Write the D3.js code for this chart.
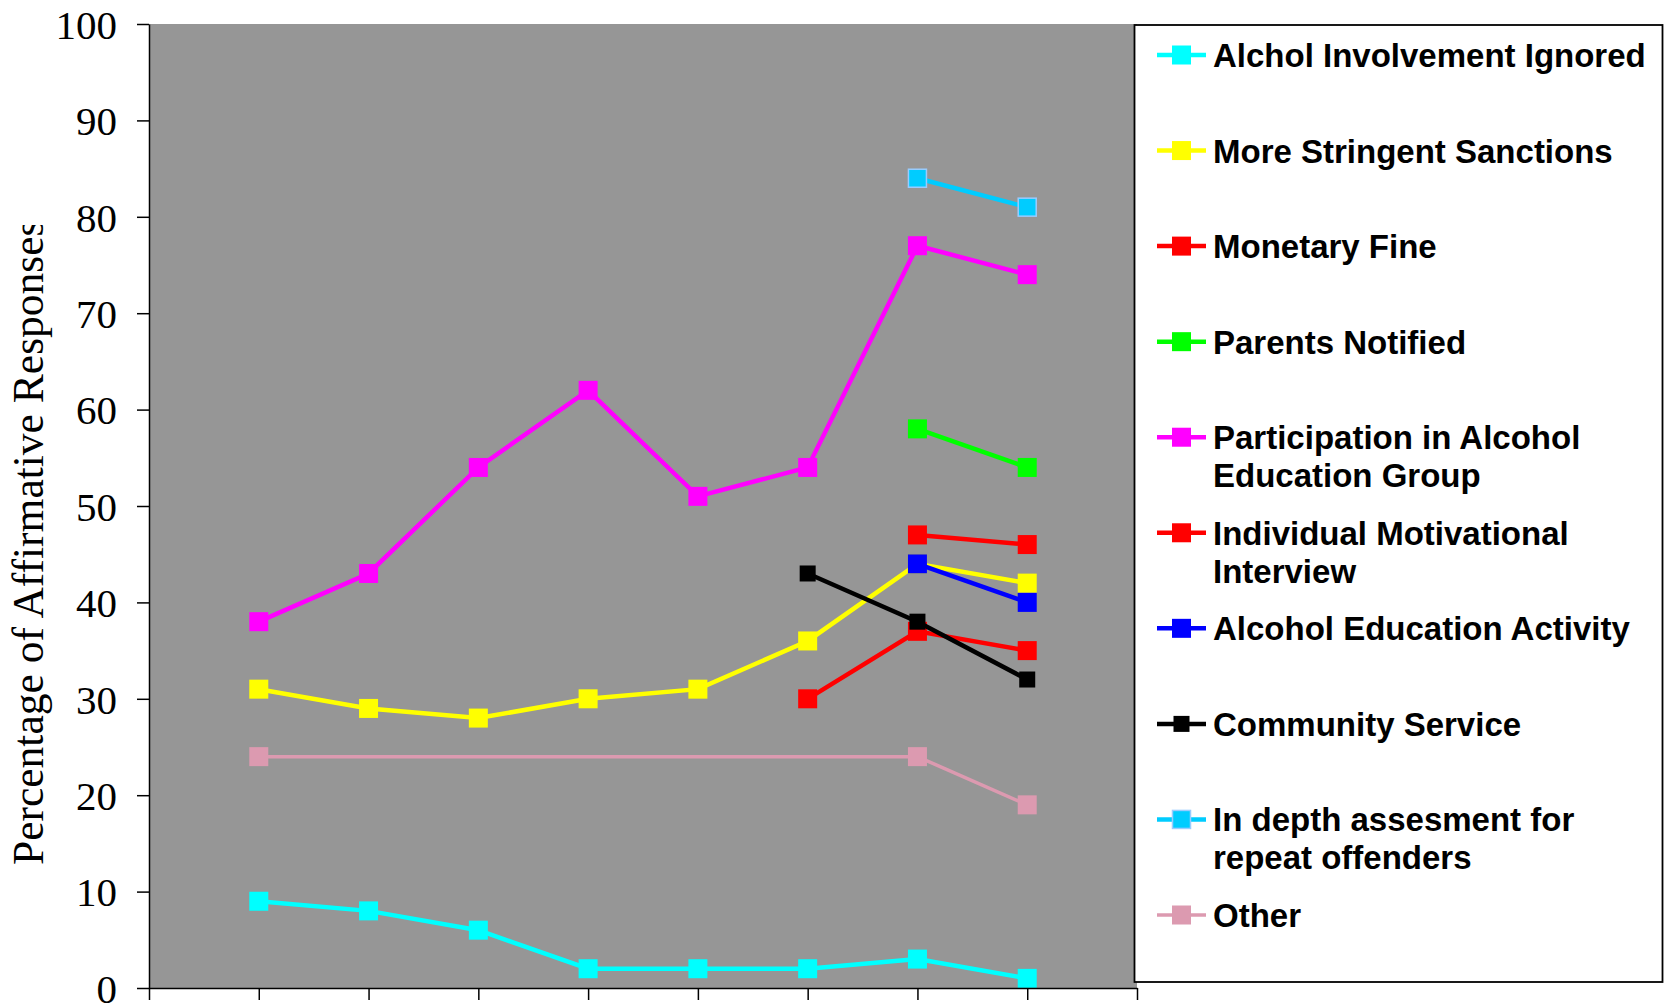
<!DOCTYPE html>
<html>
<head>
<meta charset="utf-8">
<script src="https://cdn.jsdelivr.net/npm/d3@7"></script>
<style>
  html, body { margin: 0; padding: 0; background: #ffffff; }
  svg { display: block; }
</style>
</head>
<body>
<svg id="chart" width="1664" height="1004"></svg>
<script>
// ---- data ----
const periods = [1, 2, 3, 4, 5, 6, 7, 8];
const xTickPositions = [0, 1, 2, 3, 4, 5, 6, 7, 8, 9];
const yTicks = [0, 10, 20, 30, 40, 50, 60, 70, 80, 90, 100];
const yTitle = "Percentage of Affirmative Responses";

const seriesNames = [
  "Alchol Involvement Ignored",
  "More Stringent Sanctions",
  "Monetary Fine",
  "Parents Notified",
  "Participation in Alcohol Education Group",
  "Individual Motivational Interview",
  "Alcohol Education Activity",
  "Community Service",
  "In depth assesment for repeat offenders",
  "Other"
];
const alcoholIgnored   = [9, 8, 6, 2, 2, 2, 3, 1];
const stringent        = [31, 29, 28, 30, 31, 36, 44, 42];
const monetaryFine     = [null, null, null, null, null, 30, 37, 35];
const parentsNotified  = [null, null, null, null, null, null, 58, 54];
const educationGroup   = [38, 43, 54, 62, 51, 54, 77, 74];
const motivational     = [null, null, null, null, null, null, 47, 46];
const educationActivity= [null, null, null, null, null, null, 44, 40];
const communityService = [null, null, null, null, null, 43, 38, 32];
const inDepth          = [null, null, null, null, null, null, 84, 81];
const other            = [24, null, null, null, null, null, 24, 19];
const seriesValues = [alcoholIgnored, stringent, monetaryFine, parentsNotified, educationGroup,
                      motivational, educationActivity, communityService, inDepth, other];

// ---- styles ----
const seriesColors  = ["#00FFFF", "#FFFF00", "#FF0000", "#00FF00", "#FF00FF",
                       "#FF0000", "#0000FF", "#000000", "#00CCFF", "#DC9AB0"];
const markerStroke  = [null, null, null, null, null, null, null, null, "#99CCFF", null];
const markerSizes   = [19, 19, 19, 19, 19, 19, 19, 16, 18, 19];
const lineWidths    = [4.5, 4.5, 4.5, 4.5, 4.5, 4.5, 4.5, 4.5, 4.5, 3.5];

const svg = d3.select("#chart");
const plot = { left: 149, right: 1137, top: 24, bottom: 988 };

const x = d3.scaleLinear().domain([0, 9]).range([plot.left, plot.right]);
const y = d3.scaleLinear().domain([0, 100]).range([plot.bottom, plot.top]);

svg.append("rect").attr("width", 1664).attr("height", 1004).attr("fill", "#ffffff");

// plot area
svg.append("rect")
  .attr("x", plot.left).attr("y", plot.top)
  .attr("width", plot.right - plot.left).attr("height", plot.bottom - plot.top)
  .attr("fill", "#969696");

// series
const line = d3.line().x(d => x(d.x)).y(d => y(d.v));
seriesNames.forEach((name, i) => {
  const pts = periods.map((p, j) => ({ x: p, v: seriesValues[i][j] })).filter(d => d.v !== null);
  const g = svg.append("g").attr("class", "series");
  g.append("path").datum(pts)
    .attr("d", line)
    .attr("fill", "none")
    .attr("stroke", seriesColors[i])
    .attr("stroke-width", lineWidths[i])
    .attr("stroke-linejoin", "miter");
  const s = markerSizes[i];
  g.selectAll("rect").data(pts).enter().append("rect")
    .attr("x", d => x(d.x) - s / 2)
    .attr("y", d => y(d.v) - s / 2)
    .attr("width", s).attr("height", s)
    .attr("fill", seriesColors[i])
    .attr("stroke", markerStroke[i] || "none")
    .attr("stroke-width", markerStroke[i] ? 1.5 : 0);
});

// axes
const yAxis = svg.append("g")
  .attr("transform", `translate(${plot.left},0)`)
  .call(d3.axisLeft(y).tickValues(yTicks).tickSize(12).tickSizeOuter(0).tickPadding(20));
yAxis.selectAll("text")
  .attr("font-family", "'Liberation Serif', 'Times New Roman', serif")
  .attr("font-size", 41)
  .attr("fill", "#000")
  .attr("dy", "0.35em");
yAxis.selectAll("line").attr("stroke", "#000").attr("stroke-width", 1.5);
yAxis.select(".domain").attr("stroke", "#000").attr("stroke-width", 1.5);

const xAxis = svg.append("g")
  .attr("transform", `translate(0,${plot.bottom})`)
  .call(d3.axisBottom(x).tickValues(xTickPositions).tickSize(12).tickSizeOuter(0).tickFormat(""));
xAxis.selectAll("line").attr("stroke", "#000").attr("stroke-width", 1.5);
xAxis.select(".domain").attr("stroke", "#000").attr("stroke-width", 1.5);

// y title (clipped at the top like the reference)
svg.append("clipPath").attr("id", "titleClip")
  .append("rect").attr("x", 0).attr("y", 225).attr("width", 100).attr("height", 760);
svg.append("g")
  .attr("clip-path", "url(#titleClip)")
  .append("text")
  .attr("transform", "translate(43,865) rotate(-90)")
  .attr("font-family", "'Liberation Serif', 'Times New Roman', serif")
  .attr("font-size", 43.5)
  .attr("fill", "#000")
  .text(yTitle);

// legend
const legend = svg.append("g");
legend.append("rect")
  .attr("x", 1134.5).attr("y", 25)
  .attr("width", 528).attr("height", 957)
  .attr("fill", "#ffffff")
  .attr("stroke", "#000").attr("stroke-width", 1.8);

const legendRowY = d3.scaleLinear().domain([0, seriesNames.length - 1]).range([55, 915]);
const textX = 1213, maxTextW = 440, lineGap = 38;
seriesNames.forEach((name, i) => {
  const cy = legendRowY(i);
  legend.append("line")
    .attr("x1", 1157).attr("x2", 1206).attr("y1", cy).attr("y2", cy)
    .attr("stroke", seriesColors[i]).attr("stroke-width", lineWidths[i]);
  const s = markerSizes[i];
  legend.append("rect")
    .attr("x", 1181.5 - s / 2).attr("y", cy - s / 2)
    .attr("width", s).attr("height", s)
    .attr("fill", seriesColors[i])
    .attr("stroke", markerStroke[i] || "none")
    .attr("stroke-width", markerStroke[i] ? 1.5 : 0);
  const t = legend.append("text")
    .attr("x", textX).attr("y", cy + 12)
    .attr("font-family", "'Liberation Sans', Arial, sans-serif")
    .attr("font-weight", "bold")
    .attr("font-size", 33)
    .attr("fill", "#000");
  // wrap words to fit the legend width
  const words = name.split(" ");
  let lineWords = [];
  let tspan = t.append("tspan").attr("x", textX).attr("dy", 0);
  words.forEach(w => {
    lineWords.push(w);
    tspan.text(lineWords.join(" "));
    if (tspan.node().getComputedTextLength() > maxTextW && lineWords.length > 1) {
      lineWords.pop();
      tspan.text(lineWords.join(" "));
      lineWords = [w];
      tspan = t.append("tspan").attr("x", textX).attr("dy", lineGap).text(w);
    }
  });
});
</script>
</body>
</html>
